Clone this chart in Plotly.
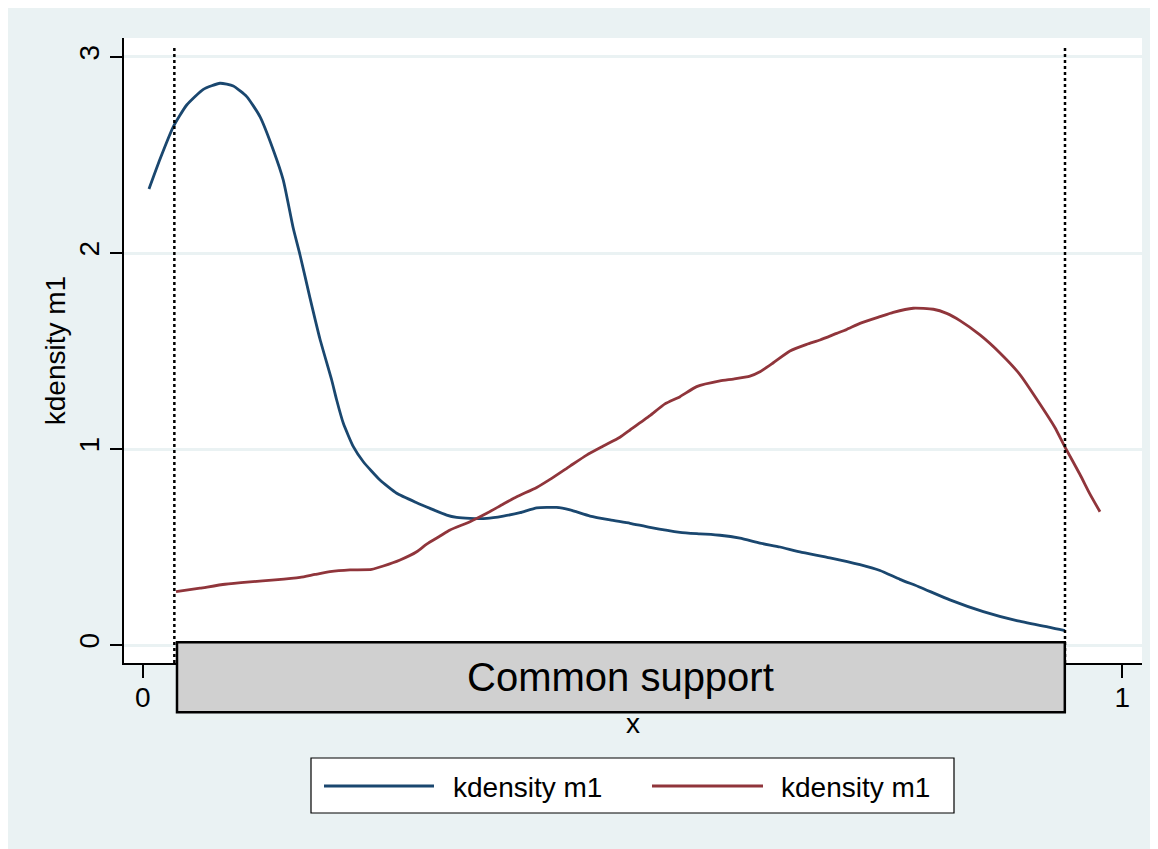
import plotly.graph_objects as go

# ---------------- data ----------------
blue_x = [0.0064, 0.0177, 0.0312, 0.0449, 0.0619, 0.0789, 0.0925, 0.1062, 0.1197, 0.1333,
          0.1435, 0.1537, 0.1606, 0.1708, 0.1810, 0.1929, 0.1980, 0.2048, 0.2150, 0.2252,
          0.2422, 0.2593, 0.2797, 0.2933, 0.3103, 0.3205, 0.3341, 0.3512, 0.3681, 0.3852,
          0.4022, 0.4226, 0.4362, 0.4566, 0.4771, 0.4975, 0.5178, 0.5485, 0.5689, 0.5893,
          0.6097, 0.6301, 0.6505, 0.6709, 0.7015, 0.7322, 0.7526, 0.7730, 0.7934, 0.8240,
          0.8581, 0.8922, 0.9261, 0.9415]
blue_y = [2.327, 2.480, 2.644, 2.755, 2.835, 2.866, 2.852, 2.798, 2.696, 2.526,
          2.372, 2.126, 1.99, 1.77, 1.56, 1.352, 1.250, 1.131, 1.012, 0.935,
          0.842, 0.774, 0.726, 0.697, 0.663, 0.651, 0.646, 0.646, 0.658, 0.675,
          0.700, 0.702, 0.689, 0.658, 0.638, 0.621, 0.600, 0.575, 0.567, 0.560,
          0.545, 0.520, 0.500, 0.475, 0.445, 0.410, 0.380, 0.335, 0.295, 0.230,
          0.170, 0.124, 0.090, 0.073]

red_x = [0.0340, 0.0585, 0.0840, 0.1095, 0.1351, 0.1606, 0.1759, 0.1912, 0.2116, 0.2338,
         0.2456, 0.2627, 0.2797, 0.2899, 0.3035, 0.3137, 0.3341, 0.3512, 0.3681, 0.3818,
         0.4022, 0.4158, 0.4362, 0.4532, 0.4702, 0.4872, 0.4975, 0.5178, 0.5331, 0.5485,
         0.5655, 0.5893, 0.6029, 0.6199, 0.6301, 0.6437, 0.6607, 0.6778, 0.6914, 0.7084,
         0.7187, 0.7322, 0.7526, 0.7662, 0.7866, 0.8071, 0.8207, 0.8343, 0.8547, 0.8751,
         0.8955, 0.9159, 0.9312, 0.9415, 0.9568, 0.9670, 0.9772]
red_y = [0.272, 0.290, 0.310, 0.322, 0.332, 0.345, 0.360, 0.374, 0.383, 0.386,
         0.403, 0.434, 0.476, 0.515, 0.556, 0.587, 0.629, 0.672, 0.719, 0.756,
         0.804, 0.845, 0.913, 0.969, 1.015, 1.060, 1.097, 1.170, 1.230, 1.267,
         1.318, 1.347, 1.357, 1.372, 1.394, 1.440, 1.500, 1.534, 1.556, 1.590,
         1.610, 1.641, 1.675, 1.697, 1.718, 1.713, 1.692, 1.655, 1.582, 1.49,
         1.38, 1.23, 1.11, 1.01, 0.87, 0.77, 0.68]

series_names = ["kdensity m1", "kdensity m1"]
x_ticks = [0, 1]
y_ticks = [0, 1, 2, 3]
support_lo, support_hi = 0.0323, 0.9415
box_top, box_bottom = 0.0143, -0.343
box_label = "Common support"

# ---------------- style/layout ----------------
OFF = 8                      # page body margin
W, H = 1150, 841
ML, MR, MT, MB = 116, 16, 30, 186
PW, PH = W - ML - MR, H - MT - MB
X_RANGE = [-0.0191, 1.0201]
Y_RANGE = [-0.0918, 3.0969]
BG = "#EAF2F3"
NAVY = "#1A476F"
MAROON = "#90353B"
FONT = "Liberation Sans, Arial, sans-serif"


def px_x(px):
    return (px - OFF - ML) / PW


def px_y(py):
    return (H - MB - (py - OFF)) / PH


def data_to_paper_y(v):
    return (v - Y_RANGE[0]) / (Y_RANGE[1] - Y_RANGE[0])


fig = go.Figure()
fig.add_trace(go.Scatter(x=blue_x, y=blue_y, mode="lines", name=series_names[0],
                         line=dict(color=NAVY, width=2.8, shape="spline", smoothing=0.5),
                         showlegend=False))
fig.add_trace(go.Scatter(x=red_x, y=red_y, mode="lines", name=series_names[1],
                         line=dict(color=MAROON, width=2.8, shape="spline", smoothing=0.5),
                         showlegend=False))

shapes = []
# plot region
shapes.append(dict(type="rect", xref="x domain", yref="y domain", layer="below",
                   x0=0, x1=1, y0=0, y1=1, fillcolor="white", line=dict(width=0)))
# dotted vertical support lines
for xv in (support_lo, support_hi):
    shapes.append(dict(type="line", xref="x", yref="y", layer="above",
                       x0=xv, x1=xv, y0=Y_RANGE[0], y1=3.051,
                       line=dict(color="black", width=2.5, dash="3px,3px")))
# common support box
shapes.append(dict(type="rect", xref="x", yref="paper", layer="above",
                   x0=0.035, x1=0.9413,
                   y0=data_to_paper_y(box_bottom), y1=data_to_paper_y(box_top),
                   fillcolor="#D0D0D0", line=dict(color="black", width=2.5)))
# manual legend box
shapes.append(dict(type="rect", xref="paper", yref="paper", layer="above",
                   x0=px_x(311), x1=px_x(954), y0=px_y(813), y1=px_y(758),
                   fillcolor="white", line=dict(color="black", width=1.2)))
shapes.append(dict(type="line", xref="paper", yref="paper", layer="above",
                   x0=px_x(324), x1=px_x(434), y0=px_y(786), y1=px_y(786),
                   line=dict(color=NAVY, width=2.8)))
shapes.append(dict(type="line", xref="paper", yref="paper", layer="above",
                   x0=px_x(652), x1=px_x(763), y0=px_y(786), y1=px_y(786),
                   line=dict(color=MAROON, width=2.8)))

annotations = [
    dict(text=box_label, xref="x", yref="paper",
         x=(0.035 + 0.9413) / 2, y=data_to_paper_y((box_top + box_bottom) / 2),
         showarrow=False, xanchor="center", yanchor="middle",
         font=dict(family=FONT, size=40, color="black")),
    dict(text=series_names[0], xref="paper", yref="paper", x=px_x(451), y=px_y(787),
         showarrow=False, xanchor="left", yanchor="middle",
         font=dict(family=FONT, size=28, color="black")),
    dict(text=series_names[1], xref="paper", yref="paper", x=px_x(779), y=px_y(787),
         showarrow=False, xanchor="left", yanchor="middle",
         font=dict(family=FONT, size=28, color="black")),
]

fig.update_layout(
    width=W, height=H,
    margin=dict(l=ML, r=MR, t=MT, b=MB, pad=0),
    paper_bgcolor=BG, plot_bgcolor="white",
    font=dict(family=FONT, size=28, color="black"),
    shapes=shapes, annotations=annotations, showlegend=False,
    xaxis=dict(range=X_RANGE, tickvals=x_ticks, ticktext=[str(v) for v in x_ticks],
               showgrid=False, zeroline=False, showline=True, linecolor="black", linewidth=1.5,
               ticks="outside", ticklen=13, tickwidth=1.5, tickcolor="black",
               ticklabelstandoff=-4,
               tickfont=dict(size=28), title=dict(text="x", font=dict(size=28), standoff=1)),
    yaxis=dict(range=Y_RANGE, tickvals=y_ticks, ticktext=[str(v) for v in y_ticks],
               showgrid=True, gridcolor=BG, gridwidth=2.5, zeroline=False,
               showline=True, linecolor="black", linewidth=1.5,
               ticks="outside", ticklen=12, tickwidth=1.5, tickcolor="black",
               tickangle=-90, tickfont=dict(size=28),
               title=dict(text="kdensity m1", font=dict(size=28), standoff=0)),
)

fig.write_html("out.html")
